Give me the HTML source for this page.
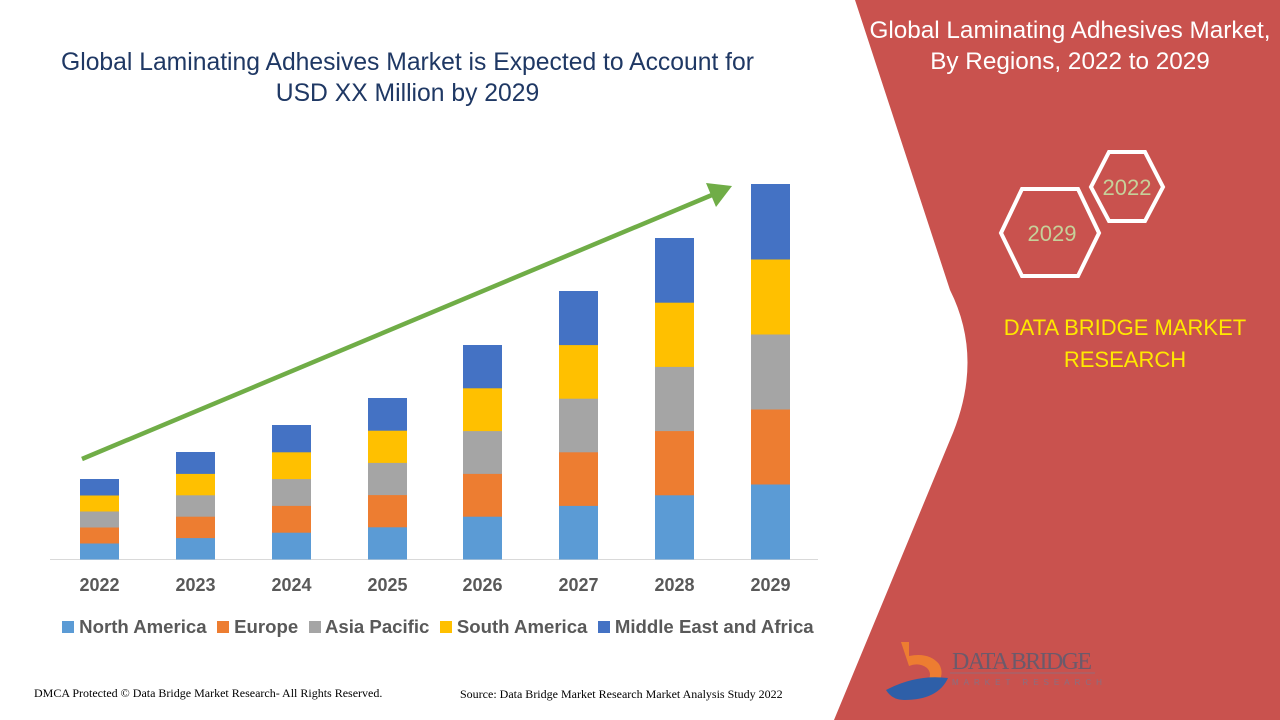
<!DOCTYPE html>
<html><head><meta charset="utf-8"><style>
body{margin:0;width:1280px;height:720px;overflow:hidden;background:#fff;font-family:"Liberation Sans",sans-serif;position:relative}
.t{position:absolute;white-space:nowrap}
</style></head><body>
<svg width="1280" height="720" style="position:absolute;left:0;top:0">
<path d="M855,0 L1280,0 L1280,720 L834,720 L950,440 Q985,360 950,290 Z" fill="#c9524e"/>
<line x1="50" y1="559.5" x2="818" y2="559.5" stroke="#d9d9d9" stroke-width="1"/>
<g id="bars"></g>
<line x1="82" y1="459" x2="712" y2="195" stroke="#70ad47" stroke-width="4.5"/>
<polygon points="732,186 706,183 716,207" fill="#70ad47"/>
<polygon points="1109,152 1145,152 1163,187 1145,221 1109,221 1091,187" fill="none" stroke="#fff" stroke-width="4"/>
<polygon points="1022,189 1078,189 1099,233 1078,276 1022,276 1001,233" fill="none" stroke="#fff" stroke-width="4"/>
<text x="1127" y="195" font-size="22" fill="#c6d19a" text-anchor="middle">2022</text>
<text x="1052" y="241" font-size="22" fill="#c6d19a" text-anchor="middle">2029</text>
<path d="M901,642 h8 v14 q20,-4 30,8 q6,10 -2,20 l-10,-2 q6,-8 0,-14 q-8,-6 -18,-2 z" fill="#ed7d31"/>
<path d="M886,690 q30,-16 62,-12 q-10,22 -44,22 q-12,0 -18,-10 z" fill="#2e5fa8"/>
<line x1="950" y1="673" x2="1095" y2="673" stroke="#a7636a" stroke-width="1.5"/>
<text x="952" y="669" font-size="24" fill="#6b5a6b" font-family="Liberation Serif" textLength="140">DATA BRIDGE</text>
<text x="952" y="685" font-size="8" fill="#8a6f80" letter-spacing="5">MARKET RESEARCH</text>
</svg>
<div class="t" style="left:0;width:815px;top:47px;text-align:center;font-size:24.7px;line-height:31px;color:#1f3864">Global Laminating Adhesives Market is Expected to Account for<br>USD XX Million by 2029</div>
<div class="t" style="left:858px;width:424px;top:15px;text-align:center;font-size:24.3px;line-height:31px;color:#fff">Global Laminating Adhesives Market,<br>By Regions, 2022 to 2029</div>
<div class="t" style="left:960px;width:330px;top:312px;text-align:center;font-size:22px;line-height:32px;color:#ffe800">DATA BRIDGE MARKET<br>RESEARCH</div>
<div id="yrs"></div>
<div class="t" style="left:62px;top:616px;font-size:18.6px;font-weight:bold;color:#595959">
<span style="display:inline-block;width:12px;height:12px;background:#5b9bd5"></span> North America&nbsp;
<span style="display:inline-block;width:12px;height:12px;background:#ed7d31"></span> Europe&nbsp;
<span style="display:inline-block;width:12px;height:12px;background:#a5a5a5"></span> Asia Pacific&nbsp;
<span style="display:inline-block;width:12px;height:12px;background:#ffc000"></span> South America&nbsp;
<span style="display:inline-block;width:12px;height:12px;background:#4472c4"></span> Middle East and Africa</div>
<div class="t" style="left:34px;top:686px;font-size:12px;font-family:'Liberation Serif',serif;color:#000">DMCA Protected © Data Bridge Market Research- All Rights Reserved.</div>
<div class="t" style="left:460px;top:687px;font-size:12px;font-family:'Liberation Serif',serif;color:#000">Source: Data Bridge Market Research Market Analysis Study 2022</div>
<script>
var tops=[479,452,425,398,345,291,238,184],xs=[80,176,272,368,463,559,655,751];
var cols=["#5b9bd5","#ed7d31","#a5a5a5","#ffc000","#4472c4"],s="",y="";
for(var i=0;i<8;i++){var h=(559-tops[i])/5;for(var k=0;k<5;k++){s+='<rect x="'+xs[i]+'" y="'+(559-h*(k+1))+'" width="39" height="'+(h+0.5)+'" fill="'+cols[k]+'"/>';}
y+='<div class="t" style="left:'+(xs[i]-20)+'px;width:79px;text-align:center;top:575px;font-size:18px;font-weight:bold;color:#595959">'+(2022+i)+'</div>';}
document.getElementById("bars").innerHTML=s;document.getElementById("yrs").innerHTML=y;
</script>
</body></html>
